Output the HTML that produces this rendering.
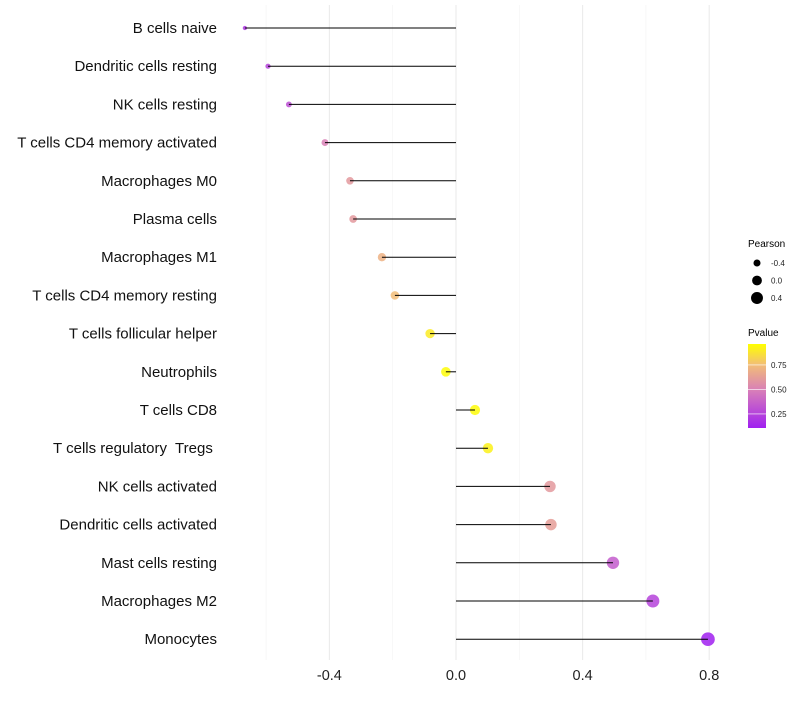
<!DOCTYPE html>
<html><head><meta charset="utf-8"><style>
body{margin:0;background:#fff;}
svg text{font-family:"Liberation Sans",sans-serif;white-space:pre;}
</style></head><body>
<svg id="chart" width="800" height="700">
<defs><linearGradient id="pg" x1="0" y1="1" x2="0" y2="0">
<stop offset="0" stop-color="#a020f0"/><stop offset="0.45" stop-color="#d87fb8"/><stop offset="0.75" stop-color="#f2bd78"/><stop offset="1" stop-color="#ffff00"/>
</linearGradient></defs>
<g id="grid"></g>
<g id="marks"></g>
<g id="ylab"></g>
<g id="xlab"></g>
<g>
<text x="748" y="247" font-size="10">Pearson</text>
<g id="sizeleg"></g>
</g>
<g>
<text x="748" y="336" font-size="10">Pvalue</text>
<rect x="748" y="344" width="18" height="84" fill="url(#pg)"/>
<g id="colleg"></g>
</g>
</svg>
<script>
const cells=["B cells naive","Dendritic cells resting","NK cells resting","T cells CD4 memory activated","Macrophages M0","Plasma cells","Macrophages M1","T cells CD4 memory resting","T cells follicular helper","Neutrophils","T cells CD8","T cells regulatory  Tregs ","NK cells activated","Dendritic cells activated","Mast cells resting","Macrophages M2","Monocytes"];
const pearson=[-0.667,-0.594,-0.528,-0.414,-0.335,-0.325,-0.234,-0.193,-0.082,-0.032,0.060,0.101,0.297,0.300,0.496,0.622,0.796];
const pvalue=[0.2,0.25,0.3,0.5,0.6,0.6,0.7,0.75,0.9,0.95,0.95,0.92,0.6,0.62,0.35,0.25,0.1];
const xTicks=[-0.4,0,0.4,0.8];
const xTickLabels=["-0.4","0.0","0.4","0.8"];
const sizeLegVals=[-0.4,0,0.4];
const colLegVals=[0.25,0.5,0.75];
const NS="http://www.w3.org/2000/svg";
const X=v=>456+v*316.5;
const Y=i=>28+i*38.2;
const R=v=>Math.sqrt(Math.max(2,24+29*v));
const stops=[[0,[160,32,240]],[0.45,[216,127,184]],[0.75,[242,189,120]],[1,[255,255,0]]];
function col(p){const t=Math.min(1,Math.max(0,(p-0.107)/(0.964-0.107)));
for(let k=1;k<stops.length;k++){if(t<=stops[k][0]){const a=stops[k-1],b=stops[k],f=(t-a[0])/(b[0]-a[0]);
return "rgb("+a[1].map((c,j)=>Math.round(c+(b[1][j]-c)*f)).join(",")+")";}}return "rgb(255,255,0)";}
function mk(t,a,p){const e=document.createElementNS(NS,t);for(const k in a)e.setAttribute(k,a[k]);p.appendChild(e);return e;}
const grid=document.getElementById('grid');
[-0.6,-0.2,0.2,0.6].forEach(v=>{const l=mk('line',{x1:X(v),x2:X(v),y1:5,y2:660,stroke:'#f2f2f2','stroke-width':0.6},grid);

});
xTicks.forEach((v,i)=>{const l=mk('line',{x1:X(v),x2:X(v),y1:5,y2:660,stroke:'#ebebeb','stroke-width':1.1},grid);


const t=mk('text',{x:X(v),y:680,'font-size':14.5,'text-anchor':'middle',fill:'#222'},document.getElementById('xlab'));t.textContent=xTickLabels[i];

});
cells.forEach((c,i)=>{const y=Y(i);
const g=mk('g',{},document.getElementById('marks'));


const ci=mk('circle',{cx:X(pearson[i]),cy:y,r:R(pearson[i]),fill:col(pvalue[i]),opacity:0.85},g);


const l=mk('line',{x1:X(0),x2:X(pearson[i]),y1:y,y2:y,stroke:'#000','stroke-width':1},g);


const t=mk('text',{x:217,y:y+5,'font-size':15,'text-anchor':'end',fill:'#111','xml:space':'preserve'},document.getElementById('ylab'));t.textContent=c;

});
sizeLegVals.forEach((v,i)=>{const y=263+i*17.5;
const c=mk('circle',{cx:757,cy:y,r:R(v),fill:'#000'},document.getElementById('sizeleg'));


const t=mk('text',{x:771,y:y+3,'font-size':8,fill:'#222'},document.getElementById('sizeleg'));t.textContent=v===0?"0.0":String(v);

});
colLegVals.forEach(v=>{const y=428-(v-0.107)/(0.964-0.107)*84;
const l=mk('line',{x1:748,x2:766,y1:y,y2:y,stroke:'#fff','stroke-width':0.6},document.getElementById('colleg'));


const t=mk('text',{x:771,y:y+3,'font-size':8,fill:'#222'},document.getElementById('colleg'));t.textContent=v.toFixed(2);

});
</script>
</body></html>
